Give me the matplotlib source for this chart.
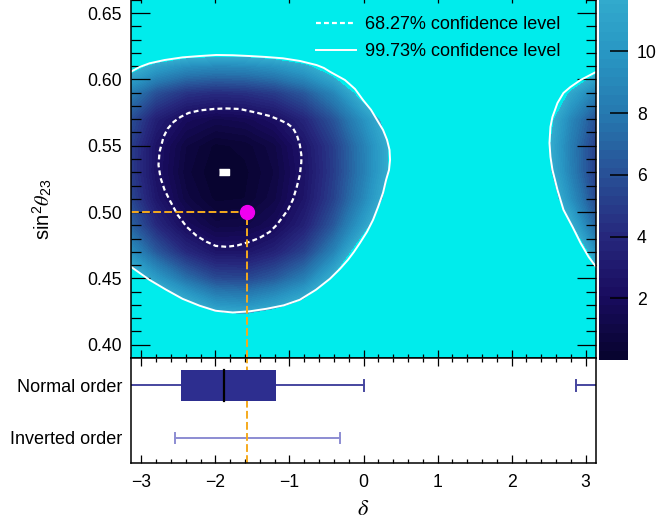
import numpy as np
import matplotlib
matplotlib.use("Agg")
import matplotlib.pyplot as plt
from matplotlib.colors import LinearSegmentedColormap, BoundaryNorm
from matplotlib.cm import ScalarMappable
from matplotlib.lines import Line2D
from matplotlib.ticker import MultipleLocator

plt.rcParams["font.family"] = ["Liberation Sans", "DejaVu Sans"]
plt.rcParams["mathtext.fontset"] = "custom"
plt.rcParams["mathtext.rm"] = "Liberation Sans"
plt.rcParams["mathtext.it"] = "STIXGeneral:italic"
plt.rcParams["mathtext.bf"] = "Liberation Sans:bold"

PI = np.pi

# delta chi2 surface on a coarse grid
delta_nodes = [-PI, -2.8, -2.4, -2.0, -1.6, -1.2, -0.8, -0.4, 0.0,
               0.4, 0.8, 1.2, 1.6, 2.0, 2.4, 2.8, PI]
s23_nodes = [0.39, 0.41, 0.43, 0.45, 0.47, 0.49, 0.51, 0.53,
             0.55, 0.57, 0.59, 0.61, 0.63, 0.65, 0.67]
# one list per delta node, sin2theta23 going up
dchi2_by_delta = [
    [30, 27.4, 19.5, 13.6, 9.4, 6.8, 5.5, 5.0, 5.1, 5.9, 8.3, 13.0, 20.5, 30, 30],
    [30, 23.4, 15.9, 10.3, 6.4, 4.0, 2.8, 2.4, 2.5, 3.4, 6.0, 10.8, 18.5, 29.4, 30],
    [28.0, 19.3, 12.5, 7.5, 4.0, 2.0, 1.0, 0.7, 0.9, 1.9, 4.6, 9.5, 17.1, 28.0, 30],
    [24.0, 16.2, 10.1, 5.7, 2.7, 1.0, 0.2, 0.0, 0.2, 1.4, 4.2, 9.1, 16.6, 27.1, 30],
    [23.0, 15.5, 9.7, 5.5, 2.7, 1.1, 0.3, 0.2, 0.4, 1.6, 4.4, 9.2, 16.5, 26.9, 30],
    [24.4, 16.7, 10.8, 6.5, 3.6, 1.8, 1.1, 0.9, 1.1, 2.3, 5.0, 9.8, 17.1, 27.4, 30],
    [26.4, 18.7, 12.7, 8.3, 5.3, 3.5, 2.7, 2.5, 2.7, 3.8, 6.4, 11.1, 18.3, 28.5, 30],
    [30, 24.5, 17.4, 12.2, 8.6, 6.4, 5.3, 5.0, 5.1, 6.2, 8.8, 13.7, 21.4, 30, 30],
    [30, 30, 27.5, 19.6, 14.1, 10.6, 8.9, 8.3, 8.4, 9.6, 13.1, 19.6, 30, 30, 30],
    [30, 30, 30, 28.3, 20.8, 15.9, 13.3, 12.4, 12.4, 13.5, 17.2, 24.6, 30, 30, 30],
    [30, 30, 30, 30, 23.5, 18.6, 16.0, 15.0, 15.0, 16.2, 20.0, 27.0, 30, 30, 30],
    [30, 30, 30, 30, 25.5, 20.6, 18.0, 17.0, 17.0, 18.2, 22.0, 29.0, 30, 30, 30],
    [30, 30, 30, 30, 27.0, 21.8, 19.0, 18.1, 18.0, 19.2, 22.8, 30, 30, 30, 30],
    [30, 30, 30, 30, 26.0, 21.0, 18.3, 17.2, 17.0, 17.8, 20.8, 27.5, 30, 30, 30],
    [30, 30, 30, 30, 24.0, 18.2, 14.9, 13.5, 13.2, 13.8, 16.4, 22.4, 30, 30, 30],
    [30, 30, 30, 23.1, 16.4, 12.0, 9.5, 8.5, 8.3, 8.9, 11.3, 16.4, 25.0, 30, 30],
    [30, 27.4, 19.5, 13.6, 9.4, 6.8, 5.5, 5.0, 5.1, 5.9, 8.3, 13.0, 20.5, 30, 30],
]
dchi2_max = 11.83
cbar_ticks = [2, 4, 6, 8, 10]

# 68.27% contour (dashed)
c68_delta = [-1.862, -1.673, -1.429, -1.266, -1.131, -1.022, -0.955, -0.901,
             -0.860, -0.840, -0.840, -0.860, -0.901, -0.955, -1.022, -1.090,
             -1.171, -1.266, -1.402, -1.537, -1.700, -1.849, -1.998, -2.120,
             -2.255, -2.390, -2.512, -2.621, -2.688, -2.743, -2.770, -2.756,
             -2.702, -2.648, -2.567, -2.472, -2.363, -2.214, -2.025, -1.862]
c68_s23 = [0.5781, 0.5777, 0.5747, 0.5724, 0.5694, 0.5664, 0.5634, 0.5581,
           0.5506, 0.5431, 0.5378, 0.5280, 0.5190, 0.5092, 0.5017, 0.4964,
           0.4904, 0.4851, 0.4806, 0.4776, 0.4749, 0.4738, 0.4745, 0.4776,
           0.4821, 0.4889, 0.4979, 0.5092, 0.5167, 0.5258, 0.5355, 0.5453,
           0.5566, 0.5627, 0.5679, 0.5717, 0.5747, 0.5766, 0.5777, 0.5781]
# 99.73% contours (solid)
c9973_left_delta = [-PI, -3.027, -2.892, -2.688, -2.445, -2.214, -1.988, -1.767,
                    -1.537, -1.320, -1.090, -0.860, -0.634, -0.535, -0.454, -0.250,
                    -0.115, -0.007, 0.102, 0.183, 0.264, 0.318, 0.352, 0.359,
                    0.345, 0.305, 0.264, 0.197, 0.129, 0.047, -0.047, -0.129,
                    -0.210, -0.318, -0.454, -0.643, -0.860, -1.077, -1.311, -1.537,
                    -1.767, -1.998, -2.214, -2.445, -2.665, -2.892, -PI]
c9973_left_s23 = [0.6058, 0.6093, 0.6121, 0.6146, 0.6166, 0.6176, 0.6184, 0.6182,
                  0.6176, 0.6169, 0.6159, 0.6139, 0.6108, 0.6086, 0.6058, 0.5995,
                  0.5928, 0.5845, 0.5770, 0.5694, 0.5619, 0.5544, 0.5468, 0.5393,
                  0.5318, 0.5242, 0.5145, 0.5039, 0.4941, 0.4851, 0.4768, 0.4700,
                  0.4640, 0.4572, 0.4497, 0.4414, 0.4339, 0.4297, 0.4271, 0.4252,
                  0.4243, 0.4256, 0.4294, 0.4346, 0.4414, 0.4489, 0.4587]
c9973_right_delta = [PI, 2.932, 2.797, 2.702, 2.621, 2.553, 2.526, 2.513,
                     2.526, 2.553, 2.621, 2.702, 2.824, 2.932, 3.041, PI]
c9973_right_s23 = [0.6056, 0.5995, 0.5943, 0.5898, 0.5822, 0.5717, 0.5642, 0.5521,
                   0.5416, 0.5318, 0.5167, 0.5017, 0.4889, 0.4768, 0.4663, 0.4587]

best_fit = (-1.89, 0.53)
true_point = (-PI / 2, 0.50)

# lower panel: intervals on delta
order_labels = ["Normal order", "Inverted order"]
normal_box = (-2.47, -1.18)
normal_median = -1.89
normal_whiskers = [(-PI, 0.0), (2.87, PI)]
inverted_range = (-2.55, -0.32)

# colours
cmap_colors = ["#080430", "#190c5f", "#26287d", "#285096", "#2678af", "#2896c3", "#32aacd"]
cmap_stops = [0, 2, 4, 6, 8, 10, dchi2_max]
cyan = "#00ecec"
orange = "#f5aa1e"

n_bands = 40
levels = np.linspace(0, dchi2_max, n_bands + 1)
base = LinearSegmentedColormap.from_list(
    "t2k", list(zip([v / dchi2_max for v in cmap_stops], cmap_colors)))
cmap = base.resampled(n_bands).with_extremes(over=cyan)

fig = plt.figure(figsize=(6.59, 5.20), dpi=100)
ax = fig.add_axes([131 / 659, 162 / 520, 465 / 659, 363 / 520])
axb = fig.add_axes([131 / 659, 57 / 520, 465 / 659, 105 / 520])
cax = fig.add_axes([599 / 659, 160 / 520, 29 / 659, 365 / 520])

Z = np.array(dchi2_by_delta).T
ax.contourf(delta_nodes, s23_nodes, Z, levels=levels, cmap=cmap, extend="max",
            antialiased=False)

ax.plot(c68_delta, c68_s23, color="white", lw=1.6, ls=(0, (2.2, 1.4)))
ax.plot(c9973_left_delta, c9973_left_s23, color="white", lw=1.4,
        solid_joinstyle="round")
ax.plot(c9973_right_delta, c9973_right_s23, color="white", lw=1.4,
        solid_joinstyle="round")

dash = (0, (4.0, 1.7))
ax.plot([-PI, true_point[0]], [true_point[1], true_point[1]], color=orange, lw=1.4, ls=dash)
ax.plot([true_point[0], true_point[0]], [0.39, true_point[1]], color=orange, lw=1.4, ls=dash)
ax.plot(*true_point, "o", color="#f000f0", ms=10, zorder=5)
ax.plot(*best_fit, marker=[(-1, -0.6), (1, -0.6), (1, 0.6), (-1, 0.6)],
        color="white", ms=7, zorder=5, ls="none")

handles = [Line2D([], [], color="white", lw=1.6, ls=(0, (2.2, 1.4))),
           Line2D([], [], color="white", lw=1.4)]
ax.legend(handles, ["68.27% confidence level", "99.73% confidence level"],
          loc="upper left", bbox_to_anchor=(0.398, 0.942), frameon=False,
          fontsize=13, borderpad=0, handlelength=2.2, handletextpad=0.5,
          labelspacing=0.55, borderaxespad=0)

ax.set_xlim(-PI, PI)
ax.set_ylim(0.39, 0.6636)
ax.xaxis.set_major_locator(MultipleLocator(1))
ax.xaxis.set_minor_locator(MultipleLocator(0.2))
ax.yaxis.set_major_locator(MultipleLocator(0.05))
ax.yaxis.set_minor_locator(MultipleLocator(0.01))
ax.tick_params(axis="y", which="major", direction="in", length=13.7, width=0.9,
               left=True, right=True, labelsize=12.7, pad=6.5)
ax.tick_params(axis="y", which="minor", direction="in", length=7, width=0.9,
               left=True, right=True)
ax.tick_params(axis="x", which="major", direction="in", length=5.8, width=0.9,
               top=True, bottom=True, labelbottom=False)
ax.tick_params(axis="x", which="minor", direction="in", length=3.2, width=0.9,
               top=True, bottom=True)
ax.set_ylabel(r"sin$^2\theta_{23}$", fontsize=14.5)
ax.yaxis.set_label_coords(-0.163, 0.41)
for sp in ax.spines.values():
    sp.set_linewidth(1.1)

# colour bar
sm = ScalarMappable(norm=BoundaryNorm(levels, n_bands), cmap=base.resampled(n_bands))
cb = fig.colorbar(sm, cax=cax, ticks=cbar_ticks)
cb.outline.set_visible(False)
cax.tick_params(direction="in", length=13, width=1.1, right=True, left=False,
                labelsize=12.7, pad=6.5)
cax.minorticks_off()

# lower panel
ypos = [1, 0]
axb.plot(normal_whiskers[0], [1, 1], color="#46469f", lw=1.4)
axb.plot(normal_whiskers[1], [1, 1], color="#46469f", lw=1.4)
for x in [normal_whiskers[0][1], normal_whiskers[1][0]]:
    axb.plot([x, x], [0.9, 1.1], color="#46469f", lw=1.4)
axb.barh(1, normal_box[1] - normal_box[0], left=normal_box[0], height=0.59,
         color="#2d2e8f", zorder=3)
axb.plot([normal_median, normal_median], [1 - 0.295, 1 + 0.295], color="black", lw=1.6, zorder=4)
axb.plot(inverted_range, [0, 0], color="#8c8cd2", lw=1.4)
for x in inverted_range:
    axb.plot([x, x], [-0.09, 0.09], color="#8c8cd2", lw=1.4)
axb.axvline(true_point[0], color=orange, lw=1.4, ls=dash)

axb.set_xlim(-PI, PI)
axb.set_ylim(-0.48, 1.52)
axb.set_yticks(ypos)
axb.set_yticklabels(order_labels)
axb.xaxis.set_major_locator(MultipleLocator(1))
axb.xaxis.set_minor_locator(MultipleLocator(0.2))
axb.tick_params(axis="y", length=0, labelsize=13, pad=6.5)
axb.tick_params(axis="x", which="major", direction="in", length=5.8, width=0.9,
                top=True, bottom=True, labelsize=12.7, pad=8)
axb.tick_params(axis="x", which="minor", direction="in", length=3.2, width=0.9,
                top=True, bottom=True)
axb.set_xlabel(r"$\delta$", fontsize=16, labelpad=6)
for sp in axb.spines.values():
    sp.set_linewidth(1.1)

fig.savefig("out.png", dpi=100)
